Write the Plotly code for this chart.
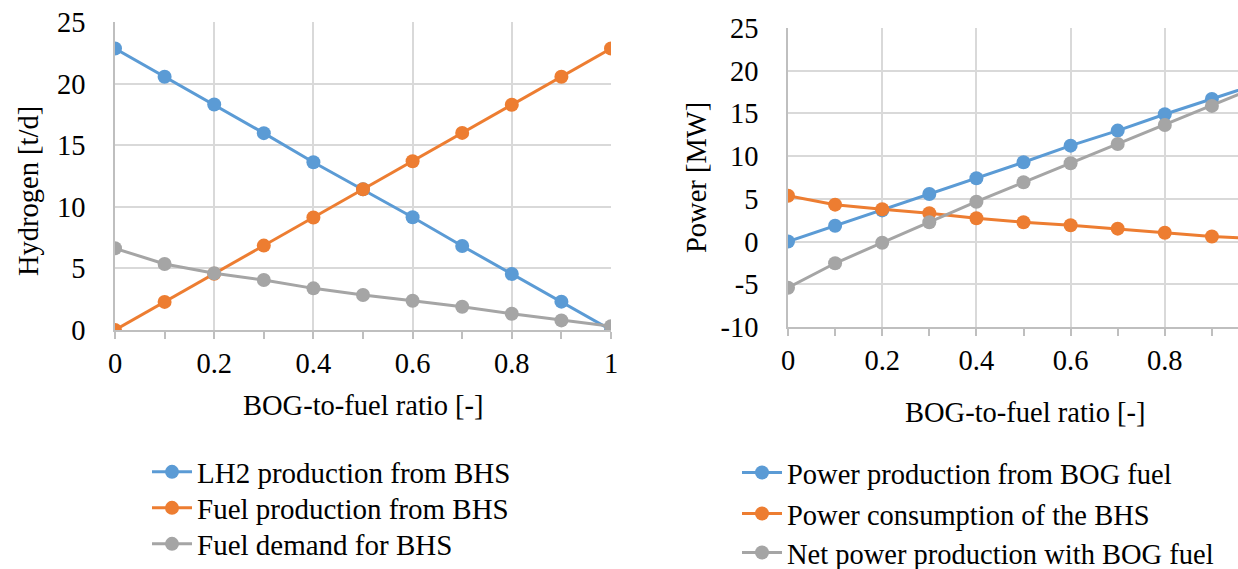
import plotly.graph_objects as go

# ---------------- data ----------------
ratio = [0.0, 0.1, 0.2, 0.3, 0.4, 0.5, 0.6, 0.7, 0.8, 0.9, 1.0]

lh2_production = [22.85, 20.56, 18.3, 15.98, 13.62, 11.42, 9.15, 6.82, 4.55, 2.3, 0.0]
fuel_production = [0.0, 2.28, 4.57, 6.85, 9.13, 11.42, 13.7, 16.0, 18.28, 20.56, 22.85]
fuel_demand = [6.63, 5.36, 4.6, 4.06, 3.38, 2.84, 2.37, 1.89, 1.32, 0.78, 0.3]

power_production = [0.0, 1.86, 3.65, 5.57, 7.41, 9.28, 11.23, 12.99, 14.9, 16.7, 18.5]
power_consumption = [5.37, 4.32, 3.78, 3.31, 2.73, 2.26, 1.91, 1.51, 1.04, 0.6, 0.3]
net_power = [-5.4, -2.54, -0.13, 2.26, 4.67, 6.94, 9.17, 11.43, 13.65, 15.88, 18.2]

left_names = ["LH2 production from BHS", "Fuel production from BHS", "Fuel demand for BHS"]
right_names = ["Power production from BOG fuel", "Power consumption of the BHS",
               "Net power production with BOG fuel"]

left_yticks = [0, 5, 10, 15, 20, 25]
right_yticks = [-10, -5, 0, 5, 10, 15, 20, 25]
right_yticktext = ["-10", "-5", "0", "5", "10", "15", "20", "25"]
xticks = [0, 0.2, 0.4, 0.6, 0.8, 1.0]
xticktext = ["0", "0.2", "0.4", "0.6", "0.8", "1"]

# ---------------- style ----------------
BLUE = "#5B9BD5"
ORANGE = "#ED7D31"
GRAY = "#A5A5A5"
FONT = "Liberation Serif, Times New Roman, serif"
FS = 28.5
FS_LEG = 29
GRID = "#D9D9D9"
AXIS = "#BFBFBF"

W, H = 1238, 569


def px_x(p):
    return p / W


def px_y(p):
    return 1 - p / H


fig = go.Figure()

colors = [BLUE, ORANGE, GRAY]
left_rows = [472, 508, 544]
right_rows = [473, 514, 553]
legends = {}

for i, (name, ys) in enumerate(zip(left_names, [lh2_production, fuel_production, fuel_demand])):
    lg = "legend" if i == 0 else "legend%d" % (i + 1)
    fig.add_trace(go.Scatter(x=ratio, y=ys, name=name, mode="lines+markers",
                             line=dict(color=colors[i], width=3),
                             marker=dict(color=colors[i], size=14),
                             xaxis="x", yaxis="y", legend=lg))
    legends[lg] = dict(x=px_x(147), y=px_y(left_rows[i]), xanchor="left", yanchor="middle",
                       font=dict(family=FONT, size=FS_LEG, color="#000"),
                       bgcolor="rgba(0,0,0,0)", itemwidth=40)

for i, (name, ys) in enumerate(zip(right_names,
                                   [power_production, power_consumption, net_power])):
    lg = "legend%d" % (i + 4)
    fig.add_trace(go.Scatter(x=ratio, y=ys, name=name, mode="lines+markers",
                             line=dict(color=colors[i], width=3),
                             marker=dict(color=colors[i], size=14),
                             xaxis="x2", yaxis="y2", legend=lg))
    legends[lg] = dict(x=px_x(737), y=px_y(right_rows[i]), xanchor="left", yanchor="middle",
                       font=dict(family=FONT, size=FS, color="#000"),
                       bgcolor="rgba(0,0,0,0)", itemwidth=40)

axis_common = dict(showgrid=True, gridcolor=GRID, gridwidth=1.5, automargin=False,
                   tickfont=dict(family=FONT, size=FS, color="#000"),
                   zeroline=False, showline=True, linecolor=AXIS, linewidth=1.5)

fig.update_layout(
    width=W, height=H,
    margin=dict(l=0, r=0, t=0, b=0, autoexpand=False),
    paper_bgcolor="white", plot_bgcolor="white",
    font=dict(family=FONT, size=FS, color="#000"),
    xaxis=dict(domain=[px_x(115), px_x(611)], range=[0, 1], anchor="y",
               tickvals=xticks, ticktext=xticktext, ticks="outside", ticklen=7,
               tickcolor=AXIS, tickwidth=1.5, ticklabelstandoff=0,
               minor=dict(dtick=0.1, tick0=0, ticks="outside", ticklen=7,
                          tickcolor=AXIS, showgrid=False),
               **axis_common),
    yaxis=dict(domain=[px_y(330), px_y(22)], range=[0, 25], anchor="x",
               tickvals=left_yticks, ticks="", ticklabelstandoff=22,
               **axis_common),
    xaxis2=dict(domain=[px_x(788), 1.0], range=[0, 450 / 471], anchor="y2",
                tickvals=xticks, ticktext=xticktext, ticks="outside", ticklen=7,
                tickcolor=AXIS, tickwidth=1.5, ticklabelstandoff=0,
                minor=dict(dtick=0.1, tick0=0, ticks="outside", ticklen=7,
                           tickcolor=AXIS, showgrid=False),
                **axis_common),
    yaxis2=dict(domain=[px_y(327), px_y(28)], range=[-10, 25], anchor="x2",
                tickvals=right_yticks, ticktext=right_yticktext, ticks="",
                ticklabelstandoff=22, **axis_common),
    showlegend=True,
    **legends,
)

annotations = [
    dict(text="Hydrogen [t/d]", x=px_x(28), y=px_y(191), textangle=-90),
    dict(text="BOG-to-fuel ratio [-]", x=px_x(363), y=px_y(405)),
    dict(text="Power [MW]", x=px_x(697), y=px_y(178), textangle=-90),
    dict(text="BOG-to-fuel ratio [-]", x=px_x(1025), y=px_y(412)),
]
for a in annotations:
    fig.add_annotation(xref="paper", yref="paper", showarrow=False,
                       xanchor="center", yanchor="middle",
                       font=dict(family=FONT, size=FS, color="#000"), **a)

fig.write_html("out.html")
